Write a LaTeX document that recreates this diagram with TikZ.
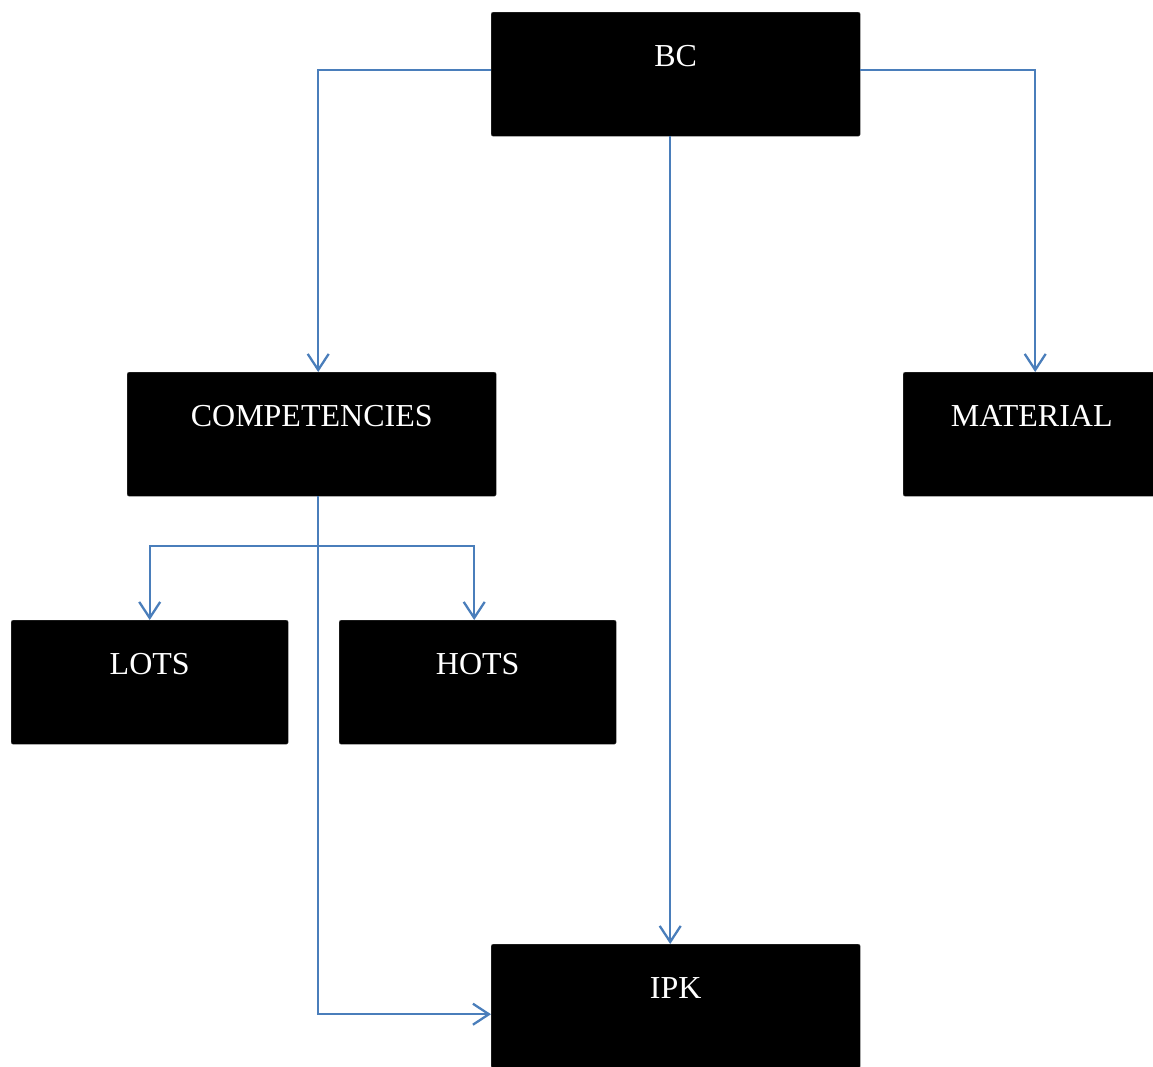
\documentclass[tikz,border=0pt]{standalone}
\usepackage{fontspec}
\setmainfont{Liberation Serif}
\usetikzlibrary {positioning}
\usetikzlibrary {arrows.meta}

\definecolor{linkblue}{RGB}{74,126,187}

\tikzset{
  blackbox/.style={fill=black, draw=black!70, rounded corners=2pt, text=white,
    inner sep=0pt, text height=54pt, text depth=70pt, anchor=north west,
    font=\fontsize{32}{38}\selectfont},
  link/.style={draw=linkblue, line width=2.3pt,
    -{Straight Barb[length=16pt,width=21pt,line width=2.3pt]}}
}

\begin{document}
\begin{tikzpicture}[x=1pt,y=-1pt]
            \useasboundingbox (0,0) rectangle (1153,1066);

            \node[blackbox, minimum width=369pt] (bc) at (491,12) {BC};
            \node[blackbox, minimum width=369pt] (comp) at (127,372) {COMPETENCIES};
            \node[blackbox, minimum width=257pt] (mat) at (903,372) {MATERIAL};
            \node[blackbox, minimum width=277pt] (lots) at (11,620) {LOTS};
            \node[blackbox, minimum width=277pt] (hots) at (339,620) {HOTS};
            \node[blackbox, minimum width=369pt] (ipk) at (491,944) {IPK};

            \coordinate (split) at (318,546);

            \draw[link] ([yshift=4pt]bc.west) -| ([xshift=6.5pt]comp.north);
            \draw[link] ([yshift=4pt]bc.east) -| ([xshift=3.5pt]mat.north);
            \draw[link] ([xshift=-5.5pt]bc.south) -- ([xshift=-5.5pt]ipk.north);
            \draw[link] ([xshift=6.5pt]comp.south) |- ([yshift=-8pt]ipk.west);
            \draw[link] (split) -| (lots.north);
            \draw[link] (split) -| ([xshift=-3.5pt]hots.north);
        \end{tikzpicture}
\end{document}
